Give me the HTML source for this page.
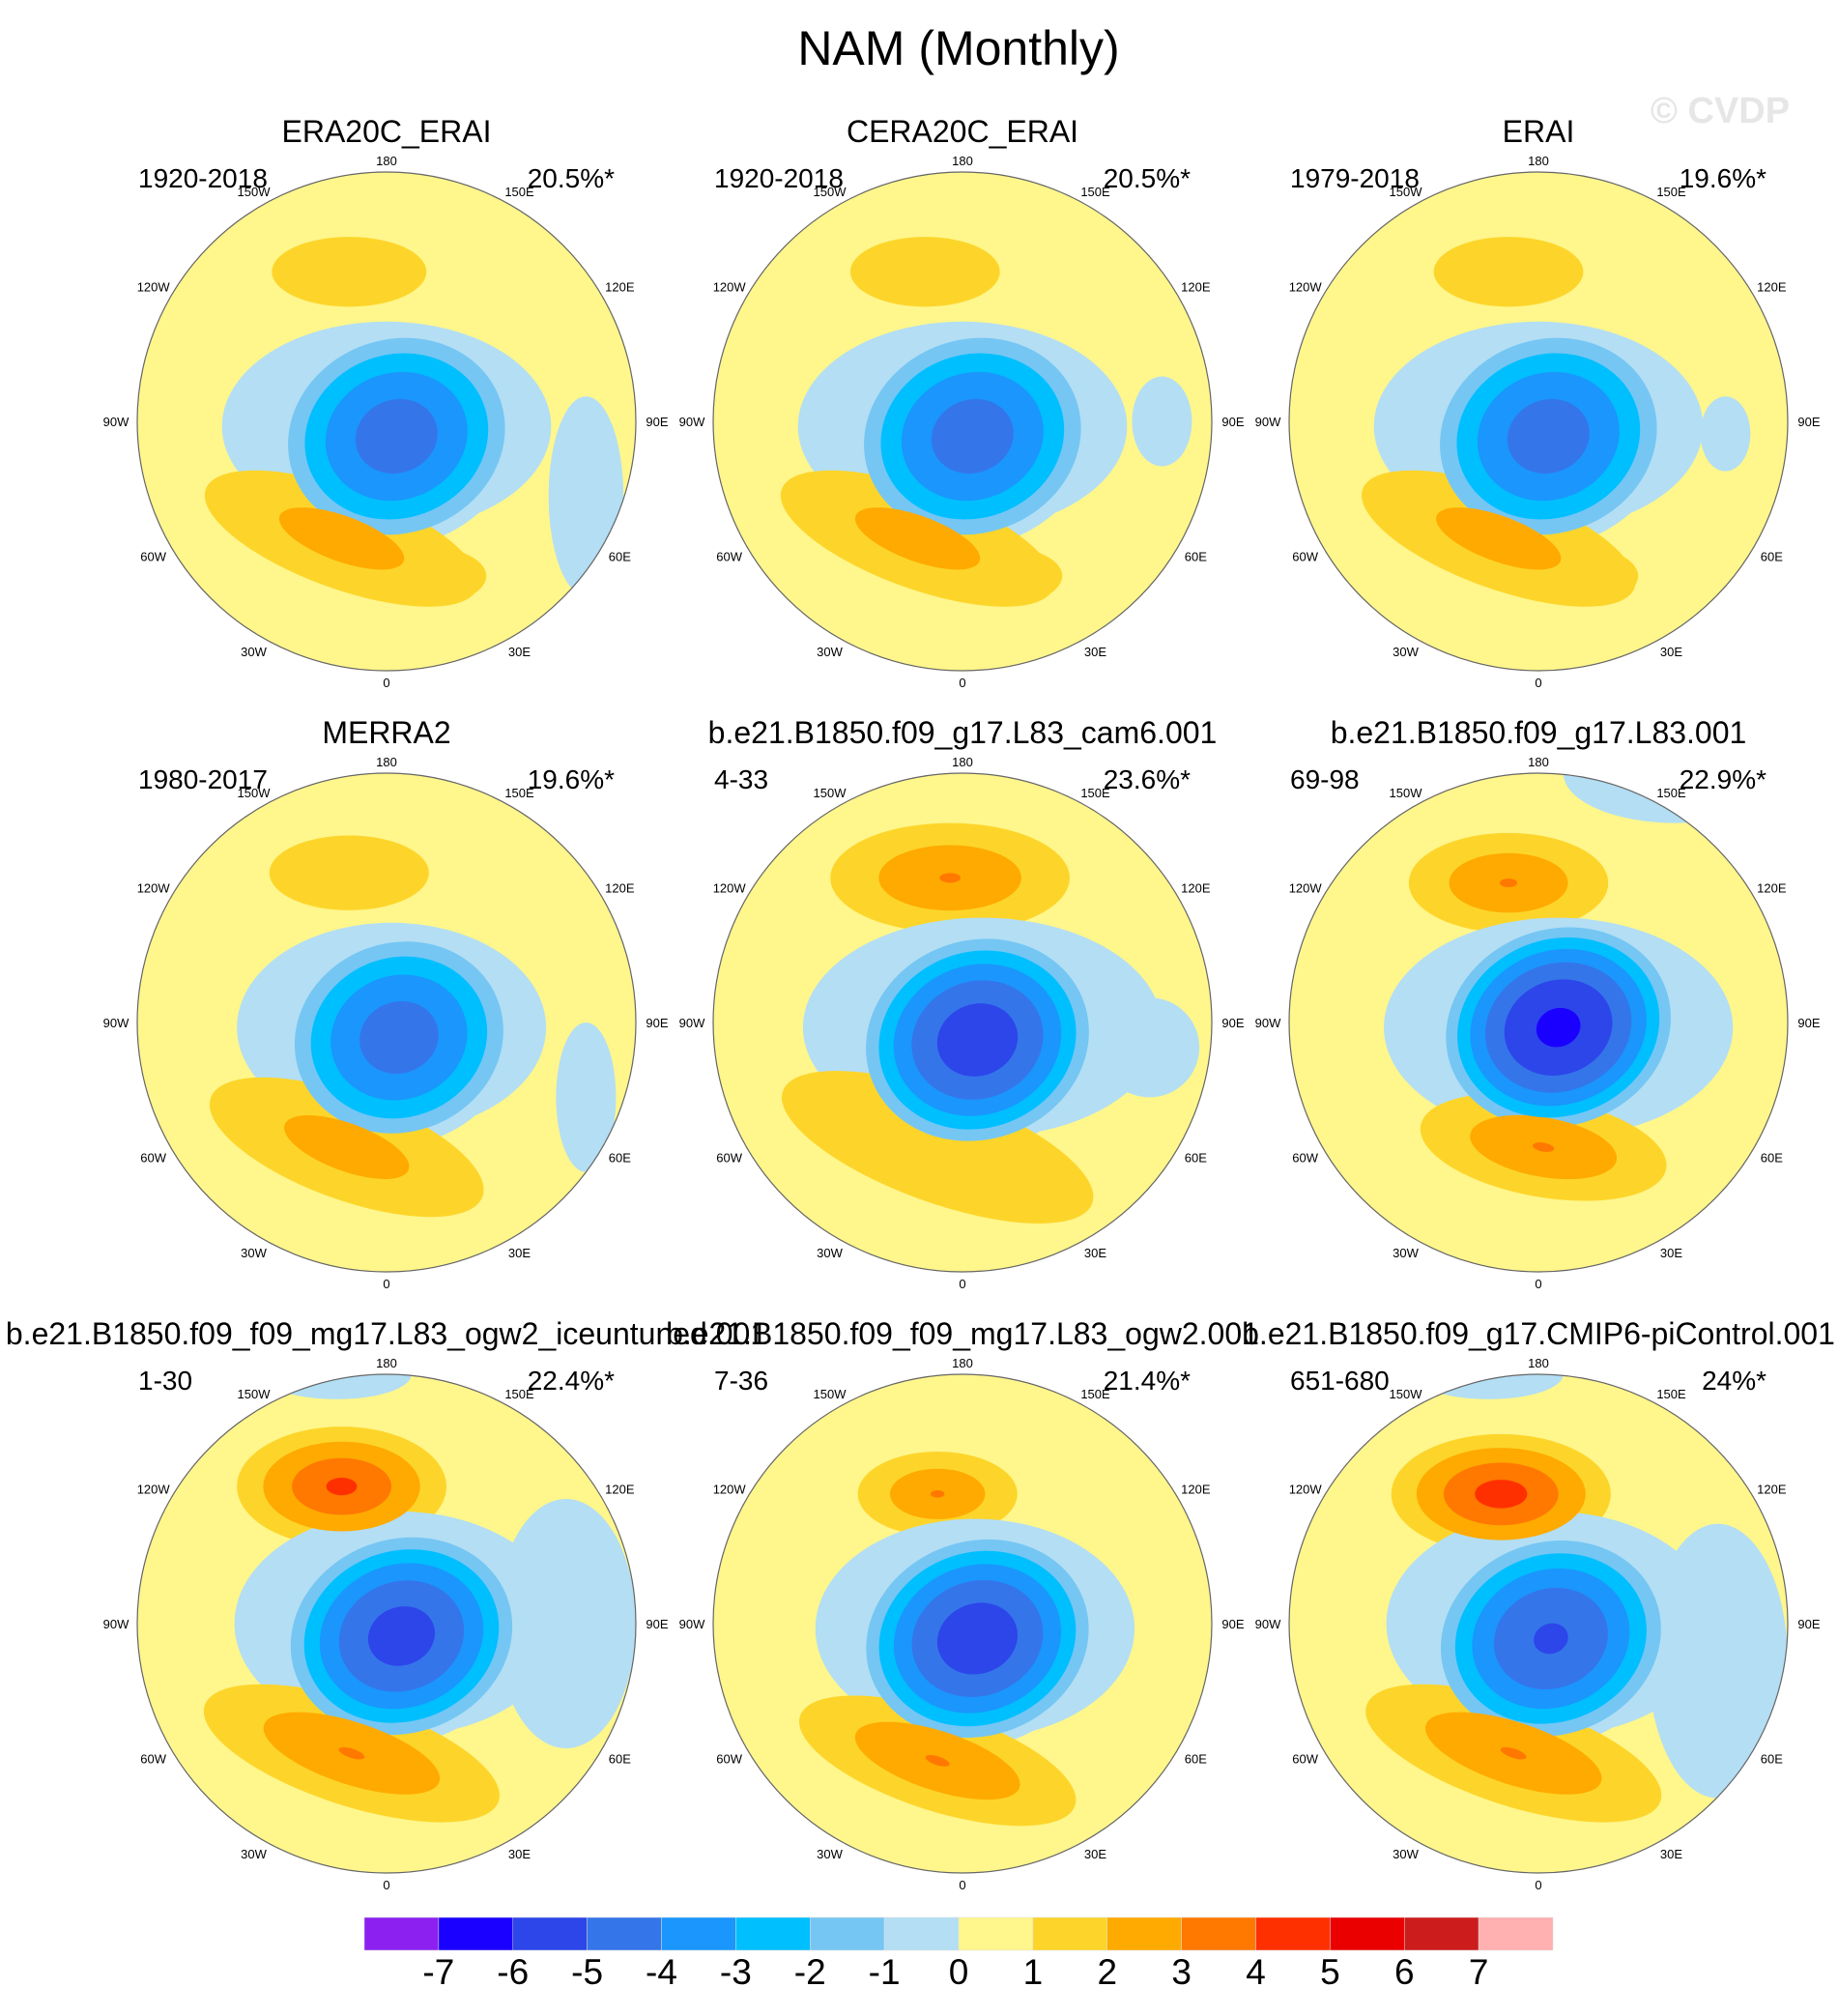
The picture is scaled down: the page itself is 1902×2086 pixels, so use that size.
<!DOCTYPE html>
<html><head><meta charset="utf-8"><style>
body{margin:0;background:#fff}
svg{display:block;font-family:"Liberation Sans",sans-serif}
</style></head><body>
<svg id="chart" width="1902" height="2086" viewBox="0 0 1902 2086">
<text x="992" y="67" font-size="50" text-anchor="middle">NAM (Monthly)</text>
<text x="1780" y="127" font-size="38" font-weight="bold" fill="#e6e6e6" text-anchor="middle">© CVDP</text>
<g id="panels"></g>
<g id="colorbar"></g>
</svg>
<script>
const panelTitles=["ERA20C_ERAI","CERA20C_ERAI","ERAI","MERRA2","b.e21.B1850.f09_g17.L83_cam6.001","b.e21.B1850.f09_g17.L83.001","b.e21.B1850.f09_f09_mg17.L83_ogw2_iceuntuned.001","b.e21.B1850.f09_f09_mg17.L83_ogw2.001","b.e21.B1850.f09_g17.CMIP6-piControl.001"];
const panelPeriods=["1920-2018","1920-2018","1979-2018","1980-2017","4-33","69-98","1-30","7-36","651-680"];
const panelPcts=["20.5%*","20.5%*","19.6%*","19.6%*","23.6%*","22.9%*","22.4%*","21.4%*","24%*"];
const levelColors=["#8b20f0","#1a00ff","#2c46ea","#3575ea","#1a96fd","#00bfff","#75c6f3","#b3def4","#fff68c","#fdd52a","#ffaa00","#ff7800","#ff3000","#eb0000","#cd1c1c","#ffb0b0"];
const cbarLabels=["-7","-6","-5","-4","-3","-2","-1","0","1","2","3","4","5","6","7"];
const lonLabels=["0","30E","60E","90E","120E","150E","180","150W","120W","90W","60W","30W"];
// blobs: [dx, dy, rx, ry, rotationDeg, peakValue] in units of map radius
const blobs=[
 [[-0.15,-0.6,0.31,0.14,0,1.6],[0.0,0.02,0.66,0.42,0,-0.9],[0.8,0.3,0.15,0.4,0,-0.9],[0.04,0.06,0.5,0.44,-20,-4.5],[-0.18,0.47,0.58,0.2,20,2.6],[0.15,0.62,0.25,0.12,0,1.6]],
 [[-0.15,-0.6,0.3,0.14,0,1.6],[0.0,0.02,0.66,0.42,0,-0.9],[0.8,0.0,0.12,0.18,0,-0.9],[0.04,0.06,0.5,0.44,-20,-4.5],[-0.18,0.47,0.58,0.2,20,2.6],[0.15,0.62,0.25,0.12,0,1.6]],
 [[-0.12,-0.6,0.3,0.14,0,1.6],[0.0,0.02,0.66,0.42,0,-0.9],[0.75,0.05,0.1,0.15,0,-0.9],[0.04,0.06,0.5,0.44,-20,-4.5],[-0.16,0.47,0.58,0.2,20,2.6],[0.15,0.62,0.25,0.12,0,1.6]],
 [[-0.15,-0.6,0.32,0.15,0,1.6],[0.02,0.02,0.62,0.42,0,-0.9],[0.8,0.3,0.12,0.3,0,-0.9],[0.05,0.06,0.48,0.43,-20,-4.5],[-0.16,0.5,0.58,0.21,20,2.6],[0.12,0.64,0.25,0.12,0,1.6]],
 [[-0.05,-0.58,0.48,0.22,0,3.1],[0.08,0.02,0.72,0.44,0,-0.9],[0.75,0.1,0.2,0.2,0,-0.9],[0.06,0.07,0.5,0.44,-20,-5.6],[-0.1,0.5,0.66,0.22,20,2.0]],
 [[-0.12,-0.56,0.4,0.2,0,3.1],[0.08,0.02,0.7,0.44,0,-0.9],[0.55,-1.0,0.45,0.2,0,-0.9],[0.08,0.02,0.5,0.43,-20,-6.2],[0.02,0.5,0.5,0.2,10,3.1]],
 [[-0.18,-0.55,0.42,0.24,0,4.3],[0.05,0.0,0.66,0.45,0,-0.9],[0.72,0.0,0.28,0.5,0,-0.9],[-0.2,-1.0,0.3,0.1,0,-0.9],[0.06,0.05,0.5,0.43,-20,-5.4],[-0.14,0.52,0.62,0.21,18,3.1]],
 [[-0.1,-0.52,0.32,0.17,0,3.1],[0.05,0.02,0.64,0.44,0,-0.9],[0.06,0.06,0.5,0.43,-20,-5.6],[-0.1,0.55,0.58,0.2,18,3.1]],
 [[-0.15,-0.52,0.44,0.24,0,4.6],[0.05,0.0,0.66,0.45,0,-0.9],[0.72,0.15,0.28,0.55,0,-0.9],[-0.2,-1.0,0.3,0.1,0,-0.9],[0.05,0.06,0.5,0.43,-20,-5.1],[-0.1,0.52,0.62,0.21,18,3.1]]
];
const NS="http://www.w3.org/2000/svg";
const colX=[400,996,1592], rowY=[436,1058,1680], R=258;
function mk(tag,attrs,parent){const e=document.createElementNS(NS,tag);for(const k in attrs)e.setAttribute(k,attrs[k]);parent.appendChild(e);return e;}
const panelsG=document.getElementById('panels');
panelTitles.forEach((t,i)=>{
  const cx=colX[i%3], cy=rowY[Math.floor(i/3)];
  const g=mk('g',{},panelsG);
  
  
  const cp=mk('clipPath',{id:'clip'+i},g);
  mk('circle',{cx:cx,cy:cy,r:R},cp);
  const map=mk('g',{'clip-path':'url(#clip'+i+')'},g);
  const bg=mk('circle',{cx:cx,cy:cy,r:R,fill:levelColors[8]},map);
  
  
  for(let lev=0;lev<8;lev++){
    blobs[i].forEach((b,j)=>{
      const [dx,dy,rx,ry,rot,A]=b;
      let s;
      if(A>0){const t=1+lev; if(A<=t) return; s=Math.pow((A-t)/(A-1),0.8);}
      else{const t=-lev; if(A>=t) return; s=Math.sqrt((t-A)/(0-A));}
      const ci = A>0 ? 9+lev : 7-lev;
      const ex=cx+dx*R, ey=cy+dy*R;
      const el=mk('ellipse',{cx:ex,cy:ey,rx:rx*R*s,ry:ry*R*s,transform:`rotate(${rot} ${ex} ${ey})`,fill:levelColors[ci]},map);
      
      
    });
  }
  const ol=mk('circle',{cx:cx,cy:cy,r:R,fill:'none',stroke:'#666','stroke-width':1.2},g);
  
  
  const tt=mk('text',{x:cx,y:cy-R-31,'font-size':32,'text-anchor':'middle'},g);tt.textContent=t;
  
  
  const pe=mk('text',{x:cx-257,y:cy-242,'font-size':28},g);pe.textContent=panelPeriods[i];
  
  
  const pc=mk('text',{x:cx+236,y:cy-242,'font-size':28,'text-anchor':'end'},g);pc.textContent=panelPcts[i];
  
  
  lonLabels.forEach((l,k)=>{
    const a=k*30*Math.PI/180;
    const rr=R+12+10*Math.abs(Math.sin(a));
    const lx=cx+Math.sin(a)*rr, ly=cy+Math.cos(a)*rr;
    const lt=mk('text',{x:lx,y:ly+5,'font-size':13,'text-anchor':'middle'},g);lt.textContent=l;
    
    
  });
});
const cb=document.getElementById('colorbar');
const cbX=377, cbW=1230, cbY=1984, cbH=34, bw=cbW/levelColors.length;
levelColors.forEach((c,k)=>{
  const r=mk('rect',{x:cbX+k*bw,y:cbY,width:bw,height:cbH,fill:c,stroke:'#ddd','stroke-width':0.5},cb);
  
  
});
cbarLabels.forEach((l,k)=>{
  const t=mk('text',{x:cbX+(k+1)*bw,y:2053,'font-size':37,'text-anchor':'middle'},cb);t.textContent=l;
  
  
});
</script>
</body></html>
